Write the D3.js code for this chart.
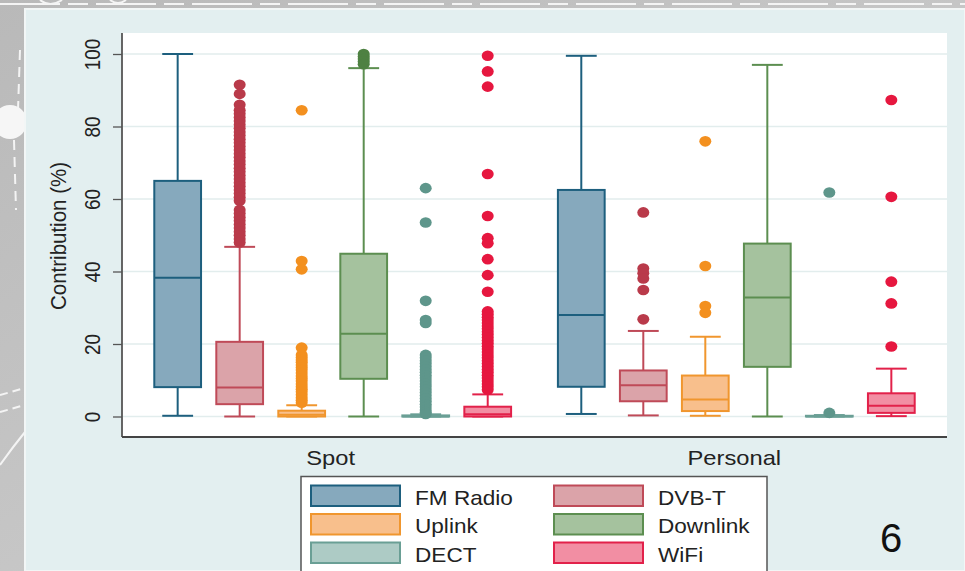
<!DOCTYPE html>
<html>
<head>
<meta charset="utf-8">
<script src="https://cdn.jsdelivr.net/npm/d3@7"></script>
<style>
  body { margin: 0; background: #c4c4c4; }
  svg { display: block; font-family: "Liberation Sans", Arial, sans-serif; }
</style>
</head>
<body>
<div id="root"></div>
<script>
const groups = ["Spot", "Personal"];
const series = ["FM Radio", "DVB-T", "Uplink", "Downlink", "DECT", "WiFi"];
const yTicks = [0, 20, 40, 60, 80, 100];

// box statistics, one value per series (FM Radio, DVB-T, Uplink, Downlink, DECT, WiFi)
const spotLow = [0.2, 0, 0, 0, 0, 0];
const spotQ1 = [8.1, 3.4, 0, 10.4, 0, 0];
const spotMedian = [38.3, 8.0, 0.5, 22.8, 0, 0.6];
const spotQ3 = [65.0, 20.6, 1.6, 44.9, 0.3, 2.7];
const spotHigh = [100, 46.8, 3.1, 96.1, 0.6, 6.1];

const personalLow = [0.7, 0.3, 0.2, 0, 0, 0.1];
const personalQ1 = [8.2, 4.2, 1.5, 13.7, 0, 1.0];
const personalMedian = [28.0, 8.6, 4.7, 32.8, 0, 3.0];
const personalQ3 = [62.5, 12.7, 11.3, 47.7, 0.2, 6.4];
const personalHigh = [99.5, 23.6, 22.0, 97.0, 0.4, 13.2];

const spotOutliers = [
  [],
  [91.5, 89, 86, 84.5, 83.5, 82.5, 81.5, 80.5, 79.5, 78.5, 77.5, 76.5, 75.5, 74.5, 73.5,
   72.5, 71.5, 70.5, 69.5, 68.5, 67.5, 66.5, 65.5, 64.5, 63.5, 62.5, 61.5, 60.5, 59.5,
   57, 56, 55, 54, 53, 52, 51, 50, 49, 48],
  [84.5, 42.9, 40.6, 19, 17, 16.3, 15.6, 15, 14.2, 13.5, 12.8, 12, 11.2, 10.5, 9.8, 9,
   8.2, 7.5, 6.8, 6, 5.2, 4.5, 3.8],
  [100, 99.3, 98.6, 97.9, 97.2],
  [63, 53.5, 31.9, 26.6, 25.8, 17, 16.2, 15.4, 14.6, 13.8, 13, 12.2, 11.4, 10.6, 9.8, 9,
   8.2, 7.4, 6.6, 5.8, 5, 4.2, 3.4, 2.6, 1.8, 1.2, 0.7],
  [99.5, 95.2, 91, 66.9, 55.3, 49.2, 47.8, 43.4, 39, 34.4, 29, 28.2, 27.4, 26.6, 25.8, 25,
   24.2, 23.4, 22.6, 21.8, 21, 20.2, 19.4, 18.6, 17.8, 17, 16.2, 15.4, 14.6, 13.8, 13,
   12.2, 11.4, 10.6, 9.8, 9, 8.2, 7.4]
];
const personalOutliers = [
  [],
  [56.3, 40.8, 39.5, 38.1, 34.9, 26.8],
  [75.9, 41.5, 30.5, 28.6],
  [],
  [61.8, 1.0],
  [87.3, 60.6, 37.2, 31.2, 19.3]
];

const fills = ["#86a9bd", "#dba3a9", "#f8bf8c", "#a5c29e", "#adcbc5", "#f28ea3"];
const strokes = ["#1d5f7e", "#bf4a58", "#f0962e", "#5c8e50", "#6a9f95", "#e2214a"];
const dots = ["#1d5f7e", "#b93a4a", "#f3901f", "#4e8142", "#5e968b", "#e6173f"];

const width = 965;
const height = 571;
const plot = { left: 122, right: 947, top: 33, bottom: 437 };

const stats = {
  Spot: [spotLow, spotQ1, spotMedian, spotQ3, spotHigh, spotOutliers],
  Personal: [personalLow, personalQ1, personalMedian, personalQ3, personalHigh, personalOutliers]
};

let boxes = [];
groups.forEach(function (g) {
  let s = stats[g];
  series.forEach(function (name, i) {
    boxes.push({
      group: g, name: name, i: i,
      lo: s[0][i], q1: s[1][i], med: s[2][i], q3: s[3][i], hi: s[4][i], out: s[5][i]
    });
  });
});

let svg = d3.select("#root").append("svg").attr("width", width).attr("height", height);

// slide background + decorations
let grad = svg.append("defs").append("linearGradient").attr("id", "bg")
  .attr("x1", 0).attr("x2", 1).attr("y1", 0).attr("y2", 1);
grad.append("stop").attr("offset", "0%").attr("stop-color", "#b9b9b9");
grad.append("stop").attr("offset", "100%").attr("stop-color", "#d3d3d3");
svg.append("rect").attr("width", width).attr("height", height).attr("fill", "url(#bg)");

let deco = svg.append("g").attr("fill", "none").attr("stroke", "#f4f4f4");
deco.append("line").attr("x1", 0).attr("x2", width).attr("y1", 4).attr("y2", 4)
  .attr("stroke-width", 2).attr("stroke-dasharray", "60 8 20 8");
deco.append("path").attr("d", "M20,50 L18,110 M14,140 L16,210").attr("stroke-width", 2)
  .attr("stroke-dasharray", "10 7");
deco.append("path").attr("d", "M0,395 L25,388 M0,412 L25,405").attr("stroke-width", 2)
  .attr("stroke-dasharray", "8 5");
deco.append("path").attr("d", "M0,465 Q12,448 25,432").attr("stroke-width", 2);
deco.append("path").attr("d", "M40,0 Q50,8 62,0 M110,0 Q118,6 126,0").attr("stroke-width", 2);
svg.append("circle").attr("cx", 10).attr("cy", 122).attr("r", 17).attr("fill", "#f6f6f6");

// chart panel
svg.append("rect").attr("x", 25).attr("y", 9).attr("width", width - 25).attr("height", height - 9)
  .attr("fill", "#e3eff0").attr("stroke", "#f2f6f6").attr("stroke-width", 2);
svg.append("rect").attr("x", plot.left).attr("y", plot.top)
  .attr("width", plot.right - plot.left).attr("height", plot.bottom - plot.top).attr("fill", "#ffffff");

let y = d3.scaleLinear().domain([0, 100]).range([416.5, 54]);
let x0 = d3.scaleBand().domain(groups).range([plot.left, plot.right])
  .paddingInner(0.116).paddingOuter(0.08);
let x1 = d3.scaleBand().domain(series).range([0, x0.bandwidth()])
  .paddingInner(0.246).paddingOuter(0);
let bw = x1.bandwidth();
let cx = (d) => x0(d.group) + x1(d.name) + bw / 2;

// grid
svg.append("g").selectAll("line").data(yTicks).enter().append("line")
  .attr("x1", plot.left).attr("x2", plot.right)
  .attr("y1", (d) => y(d)).attr("y2", (d) => y(d))
  .attr("stroke", "#e2eded").attr("stroke-width", 1.6);

// y axis
let yAxis = d3.axisLeft(y).tickValues(yTicks).tickSize(9).tickPadding(0).tickFormat(d3.format("d"));
let yg = svg.append("g").attr("transform", "translate(" + plot.left + ",0)").call(yAxis);
yg.select(".domain").remove();
yg.selectAll(".tick line").attr("stroke", "#555").attr("stroke-width", 1.3);
yg.selectAll(".tick text")
  .attr("x", 0).attr("y", 0).attr("dy", 0)
  .attr("transform", "translate(-22,0) rotate(-90) scale(1,1.12)")
  .attr("text-anchor", "middle")
  .style("font-size", "19px").attr("fill", "#222");
svg.append("line").attr("x1", plot.left).attr("x2", plot.left)
  .attr("y1", plot.top).attr("y2", plot.bottom).attr("stroke", "#555").attr("stroke-width", 1.8);
svg.append("line").attr("x1", plot.left).attr("x2", plot.right)
  .attr("y1", plot.bottom).attr("y2", plot.bottom).attr("stroke", "#444").attr("stroke-width", 2);

svg.append("text")
  .attr("transform", "translate(66,236) rotate(-90) scale(1,1.12)")
  .attr("text-anchor", "middle")
  .style("font-size", "20.5px").attr("fill", "#222")
  .text("Contribution (%)");

// group labels
svg.append("g").selectAll("text").data(groups).enter().append("text")
  .attr("transform", (d) => "translate(" + (x0(d) + x0.bandwidth() / 2 - 2) + ",465) scale(1.13,1)")
  .attr("text-anchor", "middle")
  .style("font-size", "21px").attr("fill", "#222")
  .text((d) => d);

// boxes
let bg = svg.append("g").selectAll("g").data(boxes).enter().append("g");

bg.append("line")
  .attr("x1", cx).attr("x2", cx)
  .attr("y1", (d) => y(d.hi)).attr("y2", (d) => y(d.q3))
  .attr("stroke", (d) => strokes[d.i]).attr("stroke-width", 2);
bg.append("line")
  .attr("x1", cx).attr("x2", cx)
  .attr("y1", (d) => y(d.q1)).attr("y2", (d) => y(d.lo))
  .attr("stroke", (d) => strokes[d.i]).attr("stroke-width", 2);
bg.append("line")
  .attr("x1", (d) => cx(d) - bw * 0.33).attr("x2", (d) => cx(d) + bw * 0.33)
  .attr("y1", (d) => y(d.hi)).attr("y2", (d) => y(d.hi))
  .attr("stroke", (d) => strokes[d.i]).attr("stroke-width", 2);
bg.append("line")
  .attr("x1", (d) => cx(d) - bw * 0.33).attr("x2", (d) => cx(d) + bw * 0.33)
  .attr("y1", (d) => y(d.lo)).attr("y2", (d) => y(d.lo))
  .attr("stroke", (d) => strokes[d.i]).attr("stroke-width", 2);
bg.append("rect")
  .attr("x", (d) => cx(d) - bw / 2).attr("width", bw)
  .attr("y", (d) => y(d.q3)).attr("height", (d) => Math.max(0.5, y(d.q1) - y(d.q3)))
  .attr("fill", (d) => fills[d.i]).attr("stroke", (d) => strokes[d.i]).attr("stroke-width", 2);
bg.append("line")
  .attr("x1", (d) => cx(d) - bw / 2).attr("x2", (d) => cx(d) + bw / 2)
  .attr("y1", (d) => y(d.med)).attr("y2", (d) => y(d.med))
  .attr("stroke", (d) => strokes[d.i]).attr("stroke-width", 2);

bg.selectAll("ellipse").data((d) => d.out.map((v) => ({ v: v, d: d }))).enter().append("ellipse")
  .attr("cx", (o) => cx(o.d)).attr("cy", (o) => y(o.v))
  .attr("rx", 6).attr("ry", 5.3)
  .attr("fill", (o) => dots[o.d.i]);

// legend
let lg = svg.append("g");
lg.append("rect").attr("x", 301).attr("y", 476.5).attr("width", 466).attr("height", 110)
  .attr("fill", "#ffffff").attr("stroke", "#555").attr("stroke-width", 1.5);
let items = lg.selectAll("g.item").data(series).enter().append("g").attr("class", "item")
  .attr("transform", (d, i) => "translate(" + (i % 2 === 0 ? 311 : 554) + "," + (485.5 + Math.floor(i / 2) * 28.5) + ")");
items.append("rect").attr("width", 89).attr("height", 20.5)
  .attr("fill", (d, i) => fills[i]).attr("stroke", (d, i) => strokes[i]).attr("stroke-width", 2);
items.append("text")
  .attr("transform", "translate(104,19) scale(1.13,1)")
  .style("font-size", "20px").attr("fill", "#222")
  .text((d) => d);

// slide number
svg.append("text").attr("x", 891).attr("y", 552).attr("text-anchor", "middle")
  .style("font-size", "40px").attr("fill", "#111").text("6");
</script>
</body>
</html>
